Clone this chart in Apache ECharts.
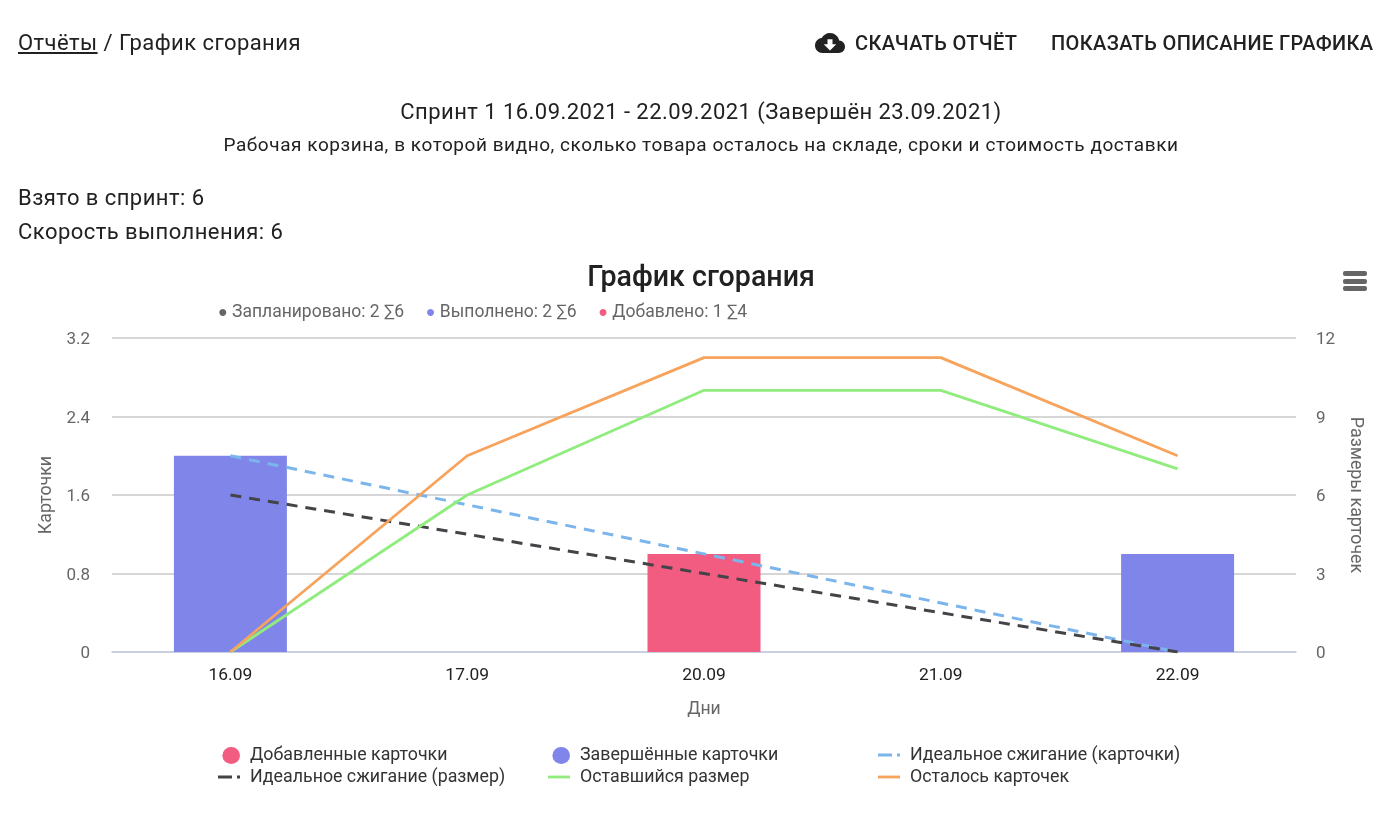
<!DOCTYPE html>
<html>
<head>
<meta charset="utf-8">
<script src="https://cdn.jsdelivr.net/npm/echarts@6/dist/echarts.min.js"></script>
<style>
html, body { margin: 0; padding: 0; background: #fff; }
body { width: 1400px; height: 819px; position: relative; overflow: hidden; font-family: Roboto, sans-serif; color: #212121; }
.t { position: absolute; white-space: nowrap; letter-spacing: 0.45px; }
#chart { position: absolute; left: 0; top: 0; width: 1400px; height: 819px; }
a { color: inherit; }
</style>
</head>
<body>
<div id="chart"></div>
<div class="t" style="left:18px;top:30px;font-size:22px;line-height:26px"><a href="#">Отчёты</a> / График сгорания</div>
<svg style="position:absolute;left:815px;top:28px" width="30" height="30" viewBox="0 0 24 24"><path fill="#212121" d="M19.35 10.04C18.67 6.59 15.64 4 12 4 9.11 4 6.6 5.64 5.35 8.04 2.34 8.36 0 10.91 0 14c0 3.31 2.69 6 6 6h13c2.76 0 5-2.24 5-5 0-2.64-2.05-4.78-4.65-4.96zM17 13l-5 5-5-5h3V9h4v4h3z"/></svg>
<div class="t" style="left:855px;top:30px;font-size:20px;line-height:26px;font-weight:500;letter-spacing:0.38px">СКАЧАТЬ ОТЧЁТ</div>
<div class="t" style="left:1051px;top:30px;font-size:20px;line-height:26px;font-weight:500;letter-spacing:0.38px">ПОКАЗАТЬ ОПИСАНИЕ ГРАФИКА</div>
<div class="t" style="left:0;width:1402px;text-align:center;top:98px;font-size:22px;line-height:28px">Спринт 1 16.09.2021 - 22.09.2021 (Завершён 23.09.2021)</div>
<div class="t" style="left:0;width:1402px;text-align:center;top:132px;font-size:19px;line-height:26px;letter-spacing:0.55px">Рабочая корзина, в которой видно, сколько товара осталось на складе, сроки и стоимость доставки</div>
<div class="t" style="left:18px;top:185px;font-size:22px;line-height:26px">Взято в спринт: 6</div>
<div class="t" style="left:18px;top:219px;font-size:22px;line-height:26px">Скорость выполнения: 6</div>
<script>
var days = ['16.09', '17.09', '20.09', '21.09', '22.09'];
var addedCards = [0, 0, 1, 0, 0];
var doneCards = [2, 0, 0, 0, 1];
var idealCards = [2, 1.5, 1, 0.5, 0];
var idealSize = [6, 4.5, 3, 1.5, 0];
var leftSize = [0, 6, 10, 10, 7];
var leftCards = [0, 2, 3, 3, 2];
var cardTicks = ['0', '0.8', '1.6', '2.4', '3.2'];
var statsLine = '{a|●} Запланировано: 2 ∑6     {b|●} Выполнено: 2 ∑6     {c|●} Добавлено: 1 ∑4';

var chart = echarts.init(document.getElementById('chart'));
var font = 'Roboto';

// tick labels sit a little below their grid line
var tickRich = { v: { fontFamily: font, fontSize: 17, color: '#666', padding: [4, 0, 0, 0] } };

// legend icons: the two empty L segments pin the path box to the 22x18 legend slot
var boxPath = 'M0 0L0 0M22 18L22 18';
var dotIcon = 'path://' + boxPath + 'M22 8.5A8.8 8.5 0 1 1 4.4 8.5A8.8 8.5 0 1 1 22 8.5Z';
var lineIcon = 'path://' + boxPath + 'M0 6.6H22V9.4H0Z';
var dashIcon = 'path://' + boxPath + 'M0 6.6H14V9.4H0ZM19 6.6H22V9.4H19Z';

function legendColumn(x, names) {
    return {
        left: x,
        top: 747,
        padding: 0,
        orient: 'vertical',
        itemWidth: 22,
        itemHeight: 18,
        itemGap: 4,
        textStyle: { fontFamily: font, fontSize: 17.8, color: '#333', padding: [0, 0, 0, 5] },
        data: names
    };
}

var option = {
    animation: false,
    title: [
        {
            text: 'График сгорания',
            left: 696, top: 259, textAlign: 'center',
            textStyle: { fontFamily: font, fontSize: 28.6, fontWeight: 500, color: '#212121' }
        },
        {
            text: statsLine,
            left: 213, top: 299,
            textStyle: {
                fontFamily: font, fontSize: 17.5, fontWeight: 400, color: '#666',
                rich: {
                    a: { color: '#666', fontSize: 16 },
                    b: { color: '#8085e9', fontSize: 16 },
                    c: { color: '#f15c80', fontSize: 16 }
                }
            }
        }
    ],
    legend: [
        legendColumn(218, [
            { name: 'Добавленные карточки', icon: dotIcon },
            { name: 'Идеальное сжигание (размер)', icon: dashIcon }
        ]),
        legendColumn(548, [
            { name: 'Завершённые карточки', icon: dotIcon },
            { name: 'Оставшийся размер', icon: lineIcon }
        ]),
        legendColumn(878, [
            { name: 'Идеальное сжигание (карточки)', icon: dashIcon },
            { name: 'Осталось карточек', icon: lineIcon }
        ])
    ],
    grid: { left: 112, right: 104, top: 338, bottom: 167 },
    xAxis: {
        type: 'category',
        data: days,
        name: 'Дни',
        nameLocation: 'middle',
        nameGap: 49,
        nameTextStyle: { fontFamily: font, fontSize: 17.6, color: '#666' },
        axisLine: { lineStyle: { color: '#c5cbe8', width: 1.5 } },
        axisTick: { show: false },
        axisLabel: { fontFamily: font, fontSize: 17.4, color: '#212121', margin: 15 }
    },
    yAxis: [
        {
            type: 'value', min: 0, max: 3.2, interval: 0.8,
            name: 'Карточки',
            nameLocation: 'middle',
            nameGap: 54,
            nameTextStyle: { fontFamily: font, fontSize: 17.8, color: '#666' },
            axisLine: { show: false },
            axisTick: { show: false },
            splitLine: { lineStyle: { color: '#c8c8c8', width: 1.5 } },
            axisLabel: {
                margin: 22, rich: tickRich,
                formatter: function (v) { return '{v|' + cardTicks[Math.round(v / 0.8)] + '}'; }
            }
        },
        {
            type: 'value', min: 0, max: 12, interval: 3,
            name: 'Размеры карточек',
            nameLocation: 'middle',
            nameGap: 50,
            nameRotate: -90,
            nameTextStyle: { fontFamily: font, fontSize: 17.8, color: '#666' },
            axisLine: { show: false },
            axisTick: { show: false },
            splitLine: { show: false },
            axisLabel: {
                margin: 20, rich: tickRich,
                formatter: function (v) { return '{v|' + v + '}'; }
            }
        }
    ],
    series: [
        { name: 'Добавленные карточки', type: 'bar', stack: 'cards', data: addedCards, barWidth: 113, itemStyle: { color: '#f15c80' } },
        { name: 'Завершённые карточки', type: 'bar', stack: 'cards', data: doneCards, barWidth: 113, itemStyle: { color: '#8085e9' } },
        { name: 'Идеальное сжигание (карточки)', type: 'line', symbol: 'none', data: idealCards, color: '#7cb5ec', lineStyle: { color: '#7cb5ec', width: 3, type: [11, 8] } },
        { name: 'Идеальное сжигание (размер)', type: 'line', symbol: 'none', yAxisIndex: 1, data: idealSize, color: '#434348', lineStyle: { color: '#434348', width: 3, type: [11, 8] } },
        { name: 'Оставшийся размер', type: 'line', symbol: 'none', yAxisIndex: 1, data: leftSize, color: '#90ed7d', lineStyle: { color: '#90ed7d', width: 2.8 } },
        { name: 'Осталось карточек', type: 'line', symbol: 'none', data: leftCards, color: '#f7a35c', lineStyle: { color: '#f7a35c', width: 2.8 } }
    ],
    graphic: [
        { type: 'rect', left: 1343, top: 271, shape: { width: 24, height: 5, r: 2 }, style: { fill: '#666' } },
        { type: 'rect', left: 1343, top: 279, shape: { width: 24, height: 5, r: 2 }, style: { fill: '#666' } },
        { type: 'rect', left: 1343, top: 286, shape: { width: 24, height: 5, r: 2 }, style: { fill: '#666' } }
    ]
};
chart.setOption(option);
</script>
</body>
</html>
